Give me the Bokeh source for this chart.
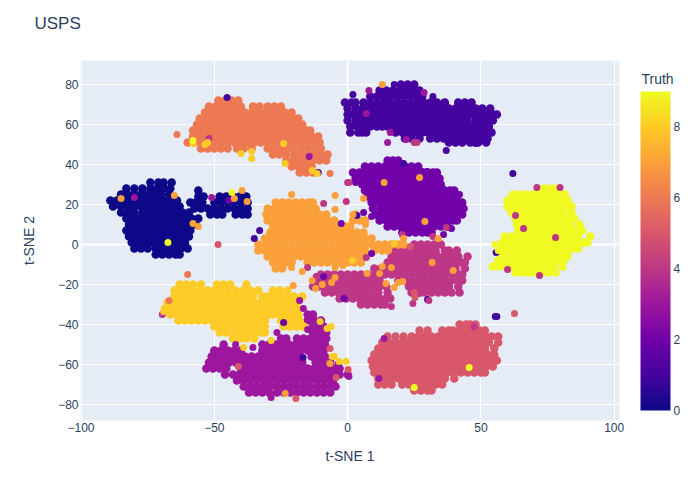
from bokeh.plotting import figure
from bokeh.models import ColumnDataSource, LinearColorMapper, ColorBar, FixedTicker, Span, Label
from bokeh.embed import file_html
from bokeh.resources import INLINE

x_ticks = [-100, -50, 0, 50, 100]
x_tick_labels = ["\u2212100", "\u221250", "0", "50", "100"]
y_ticks = [-80, -60, -40, -20, 0, 20, 40, 60, 80]
y_tick_labels = ["\u221280", "\u221260", "\u221240", "\u221220", "0", "20", "40", "60", "80"]
bar_ticks = [0, 2, 4, 6, 8]
plasma_stops = ["#0d0887", "#46039f", "#7201a8", "#9c179e", "#bd3786", "#d8576b", "#ed7953", "#fb9f3a", "#fdca26", "#f0f921"]

# each cluster: t-SNE 2 value -> t-SNE 1 values
digit0 = {
 31: [-74,-71,-69,-66],
 28: [-83,-80,-77,-74,-71.5,-69,-66.5],
 27: [-56],
 25: [-85,-82.5,-80,-77.5,-75,-72.5,-70,-67],
 24: [-56,-54,-48,-45.5,-43,-40.5,-38],
 22: [-89,-86.5,-84,-81.5,-79,-76.5,-74,-71.5,-69,-66.5,-64],
 21: [-59,-57,-54.5,-50,-47.5,-45,-42.5,-40,-37.5],
 19: [-88,-85,-82.5,-80,-77.5,-75,-72.5,-70,-67.5,-65,-63],
 18: [-57.5,-55,-52.5,-50,-47.5,-45,-42.5,-40,-37.5],
 16: [-85,-82.5,-80,-77,-74.5,-72,-69.5,-67,-64.5,-62,-59.5],
 15: [-51.5,-49,-47,-42,-39.5,-37.5],
 13: [-83,-81,-78.5,-76,-73.5,-71,-68.5,-66,-63.5,-61,-58.5,-56],
 10: [-82,-79.5,-77,-74.5,-72,-69.5,-67,-64.5,-62,-59.5,-57],
 7: [-83,-80.5,-78,-75.5,-73,-70.5,-68,-65.5,-63,-60.5,-59],
 4: [-82,-79.5,-77,-74.5,-72,-69.5,-67,-64.5,-62,-59.5],
 1: [-81,-78.5,-76,-73.5,-71,-68.5,-66,-63.5,-61],
 -2: [-80,-77.5,-75,-72,-70,-67.5,-65,-62.5,-60],
 -5: [-72,-69.5,-67,-64.5,-63],
}
digit1 = {
 80: [20,22.5,25],
 77: [12,14.5,17,19.5,22,24.5,27],
 74: [8.5,11,13.5,16,18.5,21,23.5,26,28],
 71: [-1,1.5,3,6,8.5,11,13.5,16,18.5,21,23.5,26,28.5,31,33.5,36.5,41.5,44,46.5],
 68: [0,3,5.5,8,10.5,13,15.5,18,20.5,23,25.5,28,30.5,33,35.5,38,40.5,43,45.5,48,50.5,53.5],
 65: [0,2,4.5,7,9.5,12,14.5,17,19.5,22,24.5,27,29.5,32,34.5,37,39.5,42,44.5,47,49.5,52,54.5,56],
 62: [0,3,5.5,8,10.5,13,15.5,18,20.5,23,25.5,28,30.5,33,35.5,38,40.5,43,45,48,50.5,53,54.5],
 59: [1,3.5,6,8.5,11,13,15,17.5,20,22,24,26.5,29,31.5,34,36.5,39,41.5,44,46.5,49,51.5,53],
 56: [1,4,5.5,7,18,20.5,23,25.5,28,30,32.5,35,37.5,40,42.5,45,47.5,50,52.5,54],
 53: [21.5,24,27,31,33.5,36,38.5,41,43.5,46,48.5,51,52.5],
 51: [38,40.5,43,46,49,52],
}
digit2 = {
 42: [15,17,19],
 39: [6.5,9,11.5,14,16.5,19,21.5,24,26.5],
 36: [2,4.5,7,9.5,12,14.5,17,19.5,22,24.5,27,29.5,32,33.5],
 33: [3,5.5,8,10.5,13,15.5,18,20.5,23,25.5,28,30.5,33,34.5],
 30: [5.5,7.5,10,12.5,15,17.5,20,22.5,25,27.5,30,32.5,35],
 27: [6.5,9,11.5,14,16.5,19,21.5,24,26.5,29,31.5,34,36.5,38.5,40],
 24: [7.5,10,12.5,15,17.5,20,22.5,25,27.5,30,32.5,35,37.5,40,41],
 21: [9,11.5,14,16.5,19,21.5,24,26.5,29,31.5,34,36.5,39,41.5,43],
 18: [9.5,12.5,15,17.5,20,22.5,25,27.5,30,32.5,35,37.5,40,42,43.5],
 15: [10.5,13,15.5,18,20.5,23,25.5,28,30.5,33,35.5,38,40.5,43],
 12: [12,14.5,17,19.5,22,24.5,27,29.5,32,34.5,37,39.5,41],
 9: [15,17.5,20,22.5,25,27.5,30,32.5,35,37.5],
 6: [20.5,23,25.5,28,30,31.5],
}
digit3 = {
 -35: [-15,-13],
 -38: [-15,-12.5,-10],
 -41: [-13,-11,-9],
 -44: [-13,-10.5,-8],
 -47: [-25,-23,-19,-16.5,-14,-11.5,-9,-8],
 -50: [-46.5,-32,-29.5,-27,-24.5,-22,-19.5,-17,-14.5,-12,-9.5,-8.5],
 -53: [-50,-47.5,-45,-42.5,-40,-32,-30,-27.5,-25,-22.5,-20,-17.5,-15,-12.5,-10,-9],
 -56: [-51,-48.5,-46,-43.5,-41,-38.5,-36,-33.5,-31,-28.5,-26,-23.5,-21,-18.5,-13.5,-11,-8.5],
 -59: [-52,-49.5,-47,-44.5,-42,-39.5,-37,-34.5,-32,-29.5,-27,-24.5,-22,-19.5,-17,-12,-9.5,-6.5],
 -62: [-53,-50.5,-48,-45.5,-40,-37.5,-35,-32.5,-30,-27.5,-25,-22.5,-20,-17.5,-15,-12.5,-10,-7.5,-5,-3],
 -65: [-46,-43,-40.5,-38,-35.5,-33,-30.5,-28,-25.5,-23,-20.5,-18,-15.5,-13,-10.5,-8,-5.5,-3,0],
 -68: [-41.5,-39,-36.5,-34,-31.5,-29,-26.5,-24,-21.5,-19,-16.5,-14,-11.5,-9,-6.5,-5.5],
 -71: [-39,-36.5,-34,-31.5,-29,-26.5,-24,-21.5,-19,-16.5,-14,-11.5,-9,-6.5,-4.5],
 -74: [-37,-34.5,-32,-29.5,-26.5,-24,-21.5,-19,-16.5,-14,-11.5,-9,-6.5],
}
digit4 = {
 0: [25,27.5,30,32.5,35],
 -3: [18,20.5,23,25.5,28,30.5,33,36.5,38,41],
 -6: [16.5,19,21.5,24,26.5,29,31.5,34,36.5,39,41.5,45],
 -9: [15,17.5,20,22.5,25,27.5,30,32.5,35,37.5,40,42.5,44],
 -12: [10,12.5,15,18,20.5,23,25.5,28,30.5,33,35.5,38,40.5,44],
 -15: [-10,-7.5,-5,-2.5,0,2.5,5,7.5,10,12,14,16.5,19,21.5,24,26.5,29,31.5,34,36.5,39,41.5,43],
 -18: [-12,-9.5,-7,-4.5,-2,0.5,3,5.5,8,10.5,12,19,21.5,24,26.5,29,31.5,34,36.5,39,41.5,43],
 -21: [-13,-10.5,-8,-5.5,-3,-0.5,2,4.5,7,9.5,12,14.5,23,25.5,28,30.5,33,35.5,38,41.5],
 -24: [-8.5,-6,-3.5,-1,1.5,4,6.5,9,11.5,15,24,26.5,29,31.5,34,36.5,39,42],
 -27: [-3,-0.5,2,4.5,7,9.5,12,14.5,16],
 -30: [5,7.5,10,12.5,14],
}
digit5 = {
 -40: [42,44.5,46,48],
 -43: [27,30,35.5,38,39.5,42,44.5,47,49.5,51.5],
 -46: [15,18,21,24,26.5,29,31.5,34,36.5,39,41.5,44,46.5,49,51.5,54,56.5],
 -49: [13,15.5,18,20.5,23,25.5,28,30.5,33,35.5,38,40.5,43,45.5,48,50.5,53,56.5],
 -52: [11.5,14,16.5,19,21.5,24,26.5,29,31.5,34,36.5,39,41.5,44,46.5,49,51.5,55],
 -55: [10,12.5,15,17.5,20,22.5,25,27.5,30,32.5,35,37.5,40,42.5,45,47.5,50,52.5,55],
 -58: [9,11.5,14,16.5,19,21.5,24,26.5,29,31.5,34,36.5,39,41.5,44,46.5,49,51.5,54,56],
 -61: [9.5,12,14.5,17,19.5,22,24.5,27,29.5,32,34.5,37,39.5,42,44.5,47,49.5,52,54.5],
 -64: [10,12.5,15,17.5,20,22.5,25,27.5,30,32.5,35,37.5,40,42.5,45,47.5,50,51.5],
 -67: [11.5,14,16.5,19,21.5,24,26.5,29,31.5,34,36.5,40],
 -70: [11.5,14,16.5,20.5,23,25.5,28,30.5,33,35.5],
 -73: [25,27.5,30,31.5],
}
digit6 = {
 72: [-48.5,-46,-43.5,-41],
 69: [-52,-49.5,-47,-44.5,-42,-40,-35.5,-33,-30,-27.5,-25],
 66: [-53.5,-51,-48.5,-46,-43.5,-41,-38.5,-36,-33.5,-31,-28.5,-26,-23.5,-21],
 63: [-55.5,-53,-50.5,-48,-45.5,-43,-40.5,-38,-35.5,-33,-30.5,-28,-25.5,-23,-20.5,-18.5],
 60: [-56.5,-54,-51.5,-49,-46.5,-44,-41.5,-39,-36.5,-34,-31.5,-29,-26.5,-24,-21.5,-19,-17],
 57: [-58,-55.5,-53,-50.5,-48,-45.5,-43,-40.5,-38,-35.5,-33,-30.5,-28,-25.5,-23,-20.5,-18,-15.5,-14],
 54: [-58,-56,-53.5,-51,-48.5,-46,-43.5,-41,-38.5,-36,-33.5,-31,-28.5,-26,-23.5,-21,-18.5,-16,-13.5,-11],
 51: [-60,-57.5,-55,-52.5,-50,-47.5,-45,-42.5,-40,-37.5,-35,-32.5,-30,-27.5,-25,-22.5,-20,-17.5,-15,-12.5,-10.5],
 48: [-55,-52.5,-50,-47.5,-45,-41.5,-39,-36,-30,-27.5,-25,-22.5,-20,-17.5,-15,-12.5,-10],
 45: [-28,-25.5,-23,-20,-17.5,-15,-12.5,-10,-7.5],
 42: [-23,-20.5,-18,-15.5,-13,-10.5,-8],
 39: [-21,-18.5,-16,-13.5],
 36: [-18,-15.5,-13],
}
digit7 = {
 21: [-27,-24.5,-22,-19.5,-17,-14.5,-13],
 18: [-30,-27.5,-25,-22.5,-20,-17.5,-15,-12],
 15: [-30.5,-28,-25.5,-23,-20.5,-18,-15.5,-13,-10.5,-8,3],
 12: [-30,-27.5,-25,-22.5,-20,-17.5,-15,-12.5,-10,-7.5,-5,2,4.5,6.5],
 9: [-28,-25.5,-23,-20.5,-18,-15.5,-13,-10.5,-8,-5.5,-3,-0.5,1],
 6: [-29,-26.5,-24,-21.5,-19,-16.5,-14,-11.5,-9,-6.5,-4,-1.5,1,3.5,6],
 3: [-31,-28.5,-26,-23.5,-21,-18.5,-16,-13.5,-11,-8.5,-6,-3.5,-1,1.5,4,6.5,9],
 0: [-33.5,-31,-28.5,-26,-23.5,-21,-18.5,-16,-13.5,-11,-8.5,-6,-3.5,-1,1.5,4,6.5,9,11.5,14,16.5,19,21],
 -3: [-33.5,-31,-28.5,-26,-23.5,-21,-18.5,-16,-13.5,-11,-8.5,-6,-3.5,-1,1.5,4,6.5,10,13,15],
 -6: [-30,-27.5,-25,-22.5,-20,-17.5,-15,-12.5,-10,-7.5,-5,-2.5,0,2.5,5,7],
 -9: [-28,-25.5,-23,-21,-15,-12.5,-10,-7.5,-5,-2.5,0,2.5,5],
 -12: [-27,-24.5],
}
digit8 = {
 -20: [-63,-60.5,-58,-55,-49,-46.5,-44,-38],
 -23: [-65,-62.5,-60,-57.5,-55,-52.5,-50,-47.5,-45,-42,-39,-36.5,-33.5,-28,-25.5,-22.5],
 -26: [-65,-63,-60.5,-58,-55.5,-53,-50.5,-48,-45.5,-43,-40.5,-38,-35.5,-32,-30,-27.5,-25,-22.5,-20,-17],
 -29: [-67.5,-65,-62.5,-60,-57.5,-55,-52.5,-50,-47.5,-45,-42.5,-40,-37.5,-35,-32.5,-31,-29,-26.5,-24,-21.5,-19],
 -32: [-68.5,-66,-63.5,-61,-58.5,-56,-53.5,-51,-48.5,-46,-43.5,-41,-38.5,-36,-33.5,-31,-28,-25.5,-23,-20.5,-19],
 -35: [-66.5,-64,-61.5,-59,-56.5,-54,-51.5,-49,-46.5,-44,-41.5,-39,-36.5,-34,-31.5,-30,-28,-25.5,-23,-20.5,-18.5],
 -38: [-63.5,-61,-58.5,-56,-53.5,-51,-48.5,-46,-43.5,-41,-38.5,-36,-33.5,-31,-25,-22.5,-20,-18],
 -41: [-50,-47.5,-45,-42.5,-40,-37.5,-35,-32.5,-31,-24,-21.5,-19,-16.5],
 -44: [-48,-45.5,-42.5,-40,-37.5,-35,-32.5,-31],
 -47: [-43,-40.5,-38,-35],
}
digit9 = {
 28: [71.5,74,76.5,79],
 25: [62,64.5,67,69.5,72,74.5,77,79.5,81.5],
 22: [60,62.5,65,67.5,70,72.5,75,77.5,80,82.5],
 19: [60,61.5,64,66.5,69,71.5,74,76.5,79,81.5,84],
 16: [61.5,63.5,66,68.5,71,73.5,76,78.5,81,84],
 13: [63,65,67.5,70,72.5,75,77.5,80,82.5,85],
 10: [63.5,66,68.5,71,73.5,76,78.5,81,83.5,87],
 7: [64,66.5,69,71.5,74,76.5,79,81.5,84,86,88],
 4: [59,61.5,64,66.5,69,71.5,74,76.5,79,81.5,84,86.5,91],
 1: [58,60.5,63,65.5,68,70.5,73,75.5,78,80.5,83,85.5,88,90],
 -2: [58,60,62.5,65,67.5,70,72.5,75,77.5,80,82.5,85,86.5],
 -5: [58,60.5,63,65.5,68,70.5,73,75.5,78,80.5,82.5],
 -8: [56.5,59,61.5,64,66.5,69,71.5,74,76.5,79,81],
 -11: [54.5,57,59.5,62,64.5,67,69.5,72,74.5,77,80.5],
 -14: [63,65.5,68,70.5,73,75.5,78],
}
clusters = [(digit0, 0), (digit1, 1), (digit2, 2), (digit3, 3), (digit4, 4),
            (digit5, 5), (digit6, 6), (digit7, 7), (digit8, 8), (digit9, 9)]

# stray points of each class, (t-SNE 1, t-SNE 2), drawn on top of the clusters
stray1 = [(-45.2,73.5),(-11,36),(-35,3),(-33,7),(-16.7,-56.5),(2,75),(17.5,80),(32,74),(32,72),(36,71),(37,47),(48,50.5),(62,35.5),(21,40.5),(3.5,14.5),(30,-27.5),(55.4,-36),(56,-36),(55.7,-4)]
stray2 = [(-44.5,22),(-2.4,10.5),(-24,-39),(-9,-16),(28,36.5),(30,36.5),(33,34.5),(42,25),(3,31),(6,16),(9,14),(39,8),(36,5),(9,-4.5),(-1.3,-27)]
stray3 = [(-14.4,44),(-80,23.5),(-51,23.5),(-16.6,-32),(-18,-28),(-42,-50),(-35.5,-51.5),(-26.5,-44),(-15,-42.5),(-28.7,-76.5),(0.5,-66),(-3.5,-59.5),(8,77),(28.7,76),(7,65.5),(16,56),(15,51),(22,52.5),(13.7,-47),(11.8,-67)]
stray4 = [(-52,53),(0,31),(-9,20.5),(-0.5,21.5),(-15,-11.5),(-11.8,-16),(-69.5,-35),(25,51),(26,51),(71,28.5),(79.7,28.5),(0.5,31),(37,8.5),(32,4),(20.5,5),(7,-6.5),(24.5,-29.5),(16.4,-31),(27,-24.5),(30.5,-28),(47.4,-41),(72,-15.5),(60,-12.5),(63,14.5),(66,8),(78,3.5)]
stray5 = [(-48.6,0),(-6.6,-52),(-41,-61),(-4.3,-66.5),(-19.4,-77),(0.2,-62.5),(23.5,-1),(25,-24),(25.3,-26.5),(62.6,-34.5)]
stray6 = [(-64,55),(-6.6,35.5),(-60,-15),(-67,-28)]
stray7 = [(-85,23),(-65,24.5),(-58,10.5),(-56,9),(-42.5,23),(-39.6,27),(-37.7,21.5),(-21,25),(-4.7,24.5),(-4.7,17.5),(-20.4,-20.5),(-21,-11.5),(-17,-13.5),(-4.7,-11.5),(-1.7,-10.5),(-13.3,-18),(-12,-22),(-9.5,-20),(-6,-19),(-4.7,-16.5),(-6.6,-59.5),(-23.4,-74.5),(13,80),(27,33.5),(13.7,31),(29,11.5),(6,23),(2,15),(5.5,12),(6.7,10),(21,3),(34,3),(13,-11),(16.4,-11.5),(12,-14.5),(7.3,-14.5),(14.4,-19.5),(17.5,-21.5),(19,-19),(20.7,-18.5),(31.7,-9),(39.6,-13)]
stray8 = [(-58,50.5),(-53.5,50),(-52.5,51),(-40,45.5),(-36,46.5),(-36,43),(-24,50.5),(-23.4,40.5),(-13.3,37),(-11.4,35.5),(-69,-33.5),(-39,-51.5),(-28.7,-48),(-10.3,-38.5),(-7.7,-42),(-6.2,-41),(-5.8,-56),(-5,-56),(-3.2,-58.5),(-0.6,-58.5),(17.5,0.5),(1.8,-8)]
stray9 = [(-58,52),(-43.4,26),(-67.4,1),(45.6,-61.5),(25,-71.5),(56.5,-3),(55.3,0),(82.7,-6)]
strays = [(stray1, 1), (stray2, 2), (stray3, 3), (stray4, 4), (stray5, 5), (stray6, 6), (stray7, 7), (stray8, 8), (stray9, 9)]

xs, ys, vals = [], [], []
for rows, digit in clusters:
    for yv, xlist in rows.items():
        for xv in xlist:
            xs.append(xv); ys.append(yv); vals.append(digit)
sx, sy, sv = [], [], []
for pts, digit in strays:
    for xv, yv in pts:
        sx.append(xv); sy.append(yv); sv.append(digit)

def hex2(c):
    return [int(c[i:i+2], 16) for i in (1, 3, 5)]
palette = []
for i in range(256):
    t = i / 255 * 9
    k = min(int(t), 8)
    a, b = hex2(plasma_stops[k]), hex2(plasma_stops[k + 1])
    palette.append("#%02x%02x%02x" % tuple(round(a[j] + (b[j] - a[j]) * (t - k)) for j in range(3)))
mapper = LinearColorMapper(palette=palette, low=0, high=9)

FONT = "Liberation Sans"
INK = "#2a3f5f"
p = figure(frame_width=539, frame_height=360, x_range=(-100.2, 102), y_range=(-88, 92),
           output_backend="svg", toolbar_location=None, title=None,
           min_border_left=80, min_border_top=60, min_border_bottom=70, min_border_right=70,
           background_fill_color="#E5ECF6", border_fill_color="white", outline_line_color=None)

p.add_layout(Label(x=-46, y=27.5, x_units="screen", y_units="screen", text="USPS", text_font=FONT,
                   text_font_size="17px", text_color=INK, text_baseline="bottom"), "above")

for ax, ticks, labels, title, tick_off, title_off in (
        (p.xaxis[0], x_ticks, x_tick_labels, "t-SNE 1", 2, 13),
        (p.yaxis[0], y_ticks, y_tick_labels, "t-SNE 2", 2, 18)):
    ax.ticker = FixedTicker(ticks=ticks)
    ax.major_label_overrides = dict(zip(ticks, labels))
    ax.axis_line_color = None
    ax.major_tick_line_color = None
    ax.minor_tick_line_color = None
    ax.major_tick_out = 0
    ax.major_label_standoff = tick_off
    ax.major_label_text_font = FONT
    ax.major_label_text_font_size = "12px"
    ax.major_label_text_color = INK
    ax.axis_label = title
    ax.axis_label_standoff = title_off
    ax.axis_label_text_font = FONT
    ax.axis_label_text_font_size = "14px"
    ax.axis_label_text_font_style = "normal"
    ax.axis_label_text_color = INK

p.xgrid.ticker = FixedTicker(ticks=x_ticks)
p.ygrid.ticker = FixedTicker(ticks=y_ticks)
p.grid.grid_line_color = "white"
p.grid.grid_line_width = 1
p.add_layout(Span(location=0, dimension="height", line_color="white", line_width=2, level="underlay"))
p.add_layout(Span(location=0, dimension="width", line_color="white", line_width=2, level="underlay"))

src = ColumnDataSource(dict(x=xs, y=ys, truth=vals))
p.scatter("x", "y", source=src, size=8.5, line_color=None,
          fill_color={"field": "truth", "transform": mapper})
src2 = ColumnDataSource(dict(x=sx, y=sy, truth=sv))
p.scatter("x", "y", source=src2, size=7, line_color=None,
          fill_color={"field": "truth", "transform": mapper})

cb = ColorBar(color_mapper=mapper, ticker=FixedTicker(ticks=bar_ticks), width=30, height=319,
              margin=0, padding=0, location=(21, 10), label_standoff=3,
              major_label_text_font=FONT, major_label_text_font_size="12px", major_label_text_color=INK,
              major_tick_line_color=None, minor_tick_line_color=None, bar_line_color=None)
p.add_layout(cb, "right")
p.add_layout(Label(x=-42, y=334, x_units="screen", y_units="screen", text="Truth", text_font=FONT,
                   text_font_size="14px", text_color=INK, text_baseline="bottom"), "right")

open("out.html", "w").write(file_html(p, INLINE))
